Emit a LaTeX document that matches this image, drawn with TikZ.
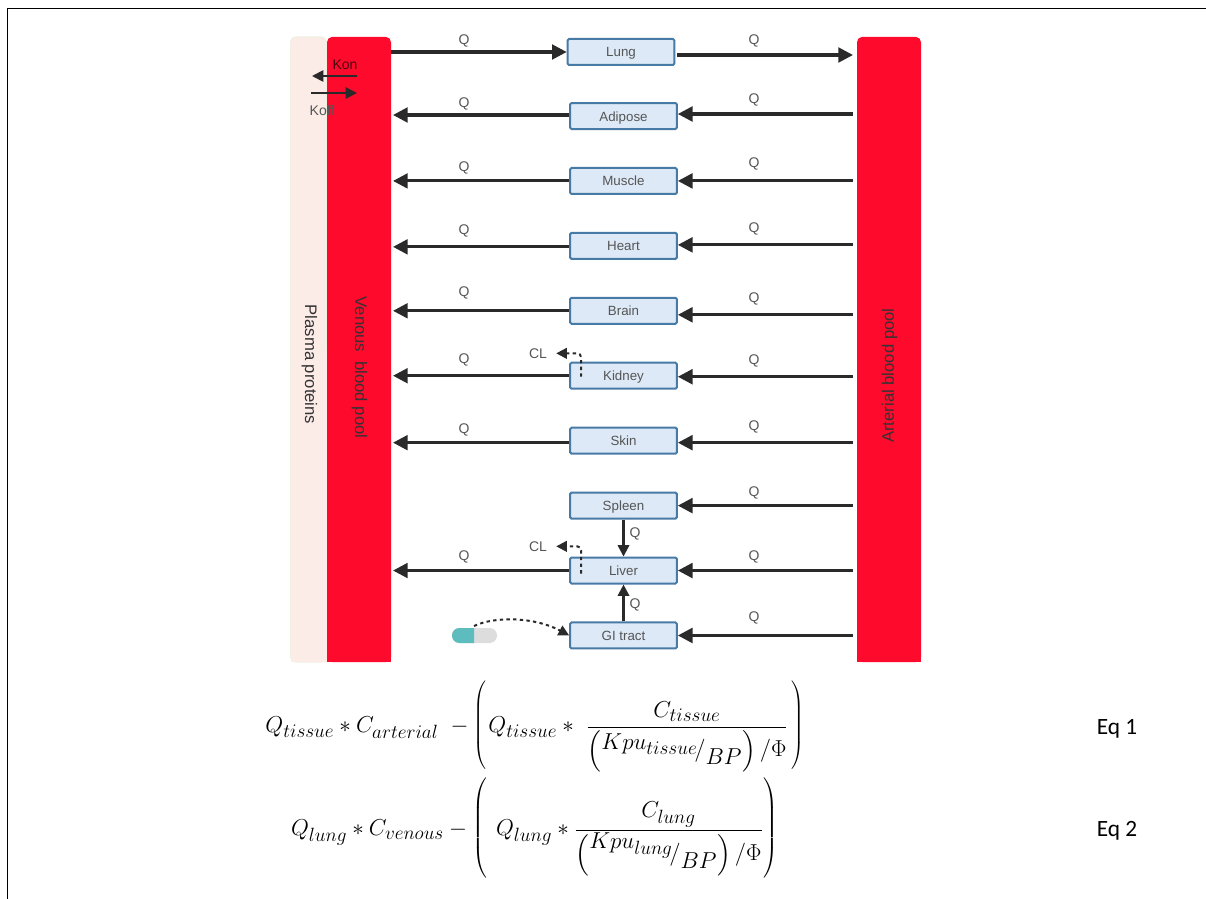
\documentclass[tikz,border=0pt]{standalone}
\usepackage[no-math]{fontspec}
\setmainfont{Liberation Sans}
\newfontfamily\eqfont{Carlito}
\usepackage{amsmath}
\usepackage{graphicx}
\usetikzlibrary{arrows.meta, positioning, calc}
\definecolor{poolRed}{RGB}{254, 10, 45}
\definecolor{plasmaPink}{RGB}{252, 236, 232}
\definecolor{plasmaEdge}{RGB}{238, 240, 224}
\definecolor{organBlue}{RGB}{221, 233, 247}
\definecolor{organEdge}{RGB}{72, 122, 166}
\definecolor{flowGray}{RGB}{42, 42, 42}
\definecolor{labelGray}{RGB}{85, 85, 85}
\definecolor{pillTeal}{RGB}{92, 188, 190}
\definecolor{pillGray}{RGB}{221, 221, 221}
\newcommand{\tallparen}[2]{\vcenter{\hbox{\resizebox*{!}{#2}{\normalsize$\left#1\vrule height 30pt depth 30pt width 0pt\right.$}}}}

\begin{document}
\begin{tikzpicture}[
      x=0.75pt, y=-0.75pt,
      node distance=27.7pt,
      organ/.style={
        rectangle, draw=organEdge, fill=organBlue,
        rounded corners=1pt, minimum height=19.5pt, minimum width=80pt,
        inner sep=0pt, font=\fontsize{10}{12}\selectfont, text=labelGray, line width=1.5pt,
        text height=9.5pt, text depth=2pt
      },
      pool/.style={rectangle, fill=poolRed, rounded corners=4pt, minimum width=48pt,
        minimum height=469pt, inner sep=0pt, outer sep=0pt},
      poollabel/.style={font=\fontsize{12.5}{15}\selectfont, text=black!80},
      qlabel/.style={font=\fontsize{10.5}{12}\selectfont, text=labelGray, inner sep=0pt, yshift=-1pt},
      flow/.style={-{Triangle[length=11pt, width=11pt]}, flowGray, line width=2.3pt},
      smallflow/.style={-{Triangle[length=8.5pt, width=8.5pt]}, flowGray, line width=1.7pt},
      cleared/.style={-{Triangle[length=8pt, width=8pt]}, flowGray, line width=1.5pt,
        dash pattern=on 2.5pt off 2.5pt},
      eqn/.style={font=\fontsize{19}{23}\selectfont, inner sep=0pt},
      eqtag/.style={font=\eqfont\fontsize{17.5}{21}\selectfont, inner sep=0pt},
    ]
      \useasboundingbox (0,0) rectangle (1206,899);

      % page frame
      \draw[black, line width=0.75pt] (7,899) -- (7,9) -- (1206,9);

      % blood pools
      \node[pool, fill=plasmaPink, draw=plasmaEdge, line width=0.75pt, minimum width=27pt] (plasma) at (308.5,349.5) {};
      \node[pool] (venous) at (359,349.5) {};
      \node[pool] (arterial) at (889,349.5) {};
      \fill[poolRed] (venous.west) rectangle (venous.south east);
      \fill[poolRed] (arterial.west) rectangle (arterial.south east);
      \fill[plasmaPink] (plasma.west) rectangle (plasma.south east);
      \node[poollabel, rotate=-90] (plasmaname) at (309.5,364.5) {Plasma proteins};
      \node[poollabel, rotate=-90] (venousname) at (359.5,367.5) {Venous\ \ blood pool};
      \node[poollabel, rotate=90] (arterialname) at (889.5,375.5) {Arterial blood pool};

      % organs
      \node[organ] (lung) at (621,52) {Lung};
      \node[organ] (adipose) at (623.5,116) {Adipose};
      \node[organ, below=of adipose] (muscle) {Muscle};
      \node[organ, below=of muscle] (heart) {Heart};
      \node[organ, below=of heart] (brain) {Brain};
      \node[organ, below=of brain] (kidney) {Kidney};
      \node[organ, below=of kidney] (skin) {Skin};
      \node[organ, below=of skin] (spleen) {Spleen};
      \node[organ, below=of spleen] (liver) {Liver};
      \node[organ, below=of liver] (gitract) {GI tract};

      % flows to the venous pool
      \foreach \i/\d in {adipose/-1, muscle/0, heart/1, brain/0, kidney/0, skin/2, liver/0} {
        \coordinate (out\i) at ([shift={(0,\d)}]\i.west);
        \draw[flow, shorten >=1.5pt] (out\i) -- (out\i -| venous.east);
      }
      % flows from the arterial pool
      \foreach \i/\d in {adipose/-2, muscle/0, heart/-1, brain/4, kidney/1, skin/2, spleen/0, liver/0, gitract/0} {
        \coordinate (in\i) at ([shift={(0,\d)}]\i.east);
        \draw[flow, shorten <=3pt] (in\i -| arterial.west) -- (in\i);
      }
      \draw[flow] (lung.west -| venous.east) -- (lung.west);
      \coordinate (outlung) at ([shift={(2,3)}]lung.east);
      \draw[flow, shorten >=3pt] (outlung) -- (outlung -| arterial.west);
      \draw[smallflow] (spleen) -- (liver);
      \draw[smallflow] (gitract) -- (liver);

      \foreach \x/\y [count=\n] in {464/40, 754/40, 464/103, 754/99, 464/167, 754/163, 464/230, 754/228,
          464/292, 754/298, 464/359, 754/360, 464/429, 754/426, 754/492, 464/556, 754/556, 754/617,
          635/533, 635/604} {
        \node[qlabel] (q\n) at (\x,\y) {Q};
      }

      % binding to plasma proteins
      \node[qlabel, text=black!70!poolRed] (kon) at (345,63) {Kon};
      \node[qlabel] (koff) at (322,109) {Koff};
      \coordinate (konstart) at (357,76);
      \coordinate (konend) at (312,76);
      \coordinate (koffstart) at (311,93);
      \coordinate (koffend) at (357,93);
      \draw[smallflow, line width=1.3pt] (konstart) -- (konend);
      \draw[smallflow, line width=1.3pt] (koffstart) -- (koffend);

      % clearance
      \node[qlabel] (clkidney) at (538,352) {CL};
      \node[qlabel] (clliver) at (538,545) {CL};
      \coordinate (clkstart) at ([shift={(12,1)}]kidney.west);
      \coordinate (cllstart) at ([shift={(12,3)}]liver.west);
      \draw[cleared, rounded corners=3pt, shorten >=6.75pt] (clkstart) |- (clkidney.east);
      \draw[cleared, rounded corners=3pt, shorten >=6.75pt] (cllstart) |- (clliver.east);

      % oral dose
      \fill[pillGray, rounded corners=5.5pt] (452,628) rectangle (497,643);
      \begin{scope}
        \clip (452,628) rectangle (474,643);
        \fill[pillTeal, rounded corners=5.5pt] (452,628) rectangle (497,643);
      \end{scope}
      \coordinate (pilltop) at (474,626);
      \draw[cleared] (pilltop) .. controls (495,616) and (535,617) .. (gitract.west);

      % equations
      \node[eqn] (eqone) at (536,727) {$Q_{tissue} * C_{arterial}\ -\tallparen{(}{69pt} Q_{tissue} *\ \dfrac{C_{tissue}}{\left({}^{\textstyle Kpu_{tissue}}\!/_{\textstyle BP}\right)/\Phi}\,\tallparen{)}{69pt}$};
      \node[eqn] (eqtwo) at (535.5,830) {$Q_{lung} * C_{venous} -\tallparen{(}{79pt}\ Q_{lung} * \dfrac{C_{lung}}{\left({}^{\textstyle Kpu_{lung}}\!/_{\textstyle BP}\right)/\Phi}\tallparen{)}{79pt}$};
      \node[eqtag] (eqonetag) at (1117,729) {Eq 1};
      \node[eqtag] (eqtwotag) at (1117,831) {Eq 2};
    \end{tikzpicture}
\end{document}
